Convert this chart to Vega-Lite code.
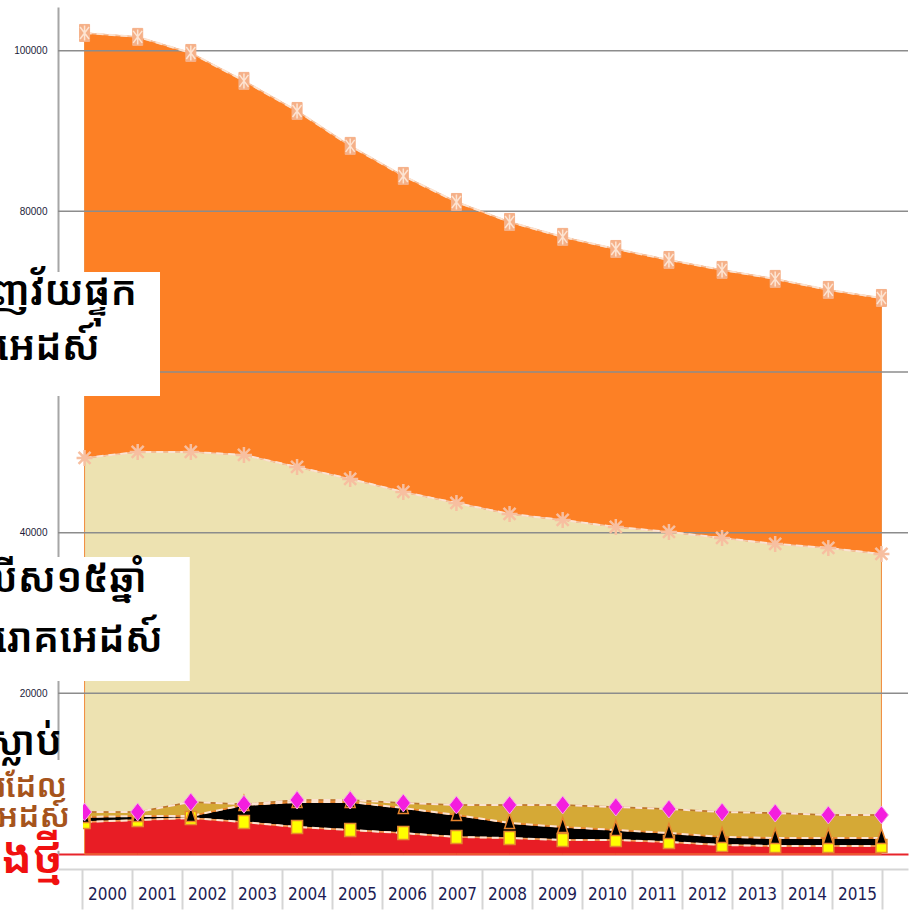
{
  "$schema": "https://vega.github.io/schema/vega-lite/v6.json",
  "width": 850,
  "height": 847,
  "autosize": {"type": "none"},
  "padding": {"left": 58, "top": 7, "right": 11, "bottom": 56},
  "background": "white",
  "config": {"view": {"stroke": null}},
  "datasets": {
    "hiv": [
      {"year": 2000, "series": "new", "k": 1, "value": 3980},
      {"year": 2001, "series": "new", "k": 1, "value": 4230},
      {"year": 2002, "series": "new", "k": 1, "value": 4480},
      {"year": 2003, "series": "new", "k": 1, "value": 3980},
      {"year": 2004, "series": "new", "k": 1, "value": 3360},
      {"year": 2005, "series": "new", "k": 1, "value": 2990},
      {"year": 2006, "series": "new", "k": 1, "value": 2610},
      {"year": 2007, "series": "new", "k": 1, "value": 2120},
      {"year": 2008, "series": "new", "k": 1, "value": 1990},
      {"year": 2009, "series": "new", "k": 1, "value": 1740},
      {"year": 2010, "series": "new", "k": 1, "value": 1740},
      {"year": 2011, "series": "new", "k": 1, "value": 1490},
      {"year": 2012, "series": "new", "k": 1, "value": 1120},
      {"year": 2013, "series": "new", "k": 1, "value": 1000},
      {"year": 2014, "series": "new", "k": 1, "value": 1000},
      {"year": 2015, "series": "new", "k": 1, "value": 1000},
      {"year": 2000, "series": "deaths", "k": 2, "value": 630},
      {"year": 2001, "series": "deaths", "k": 2, "value": 500},
      {"year": 2002, "series": "deaths", "k": 2, "value": 250},
      {"year": 2003, "series": "deaths", "k": 2, "value": 2120},
      {"year": 2004, "series": "deaths", "k": 2, "value": 3110},
      {"year": 2005, "series": "deaths", "k": 2, "value": 3480},
      {"year": 2006, "series": "deaths", "k": 2, "value": 3120},
      {"year": 2007, "series": "deaths", "k": 2, "value": 2740},
      {"year": 2008, "series": "deaths", "k": 2, "value": 1870},
      {"year": 2009, "series": "deaths", "k": 2, "value": 1620},
      {"year": 2010, "series": "deaths", "k": 2, "value": 1250},
      {"year": 2011, "series": "deaths", "k": 2, "value": 1120},
      {"year": 2012, "series": "deaths", "k": 2, "value": 1000},
      {"year": 2013, "series": "deaths", "k": 2, "value": 990},
      {"year": 2014, "series": "deaths", "k": 2, "value": 990},
      {"year": 2015, "series": "deaths", "k": 2, "value": 990},
      {"year": 2000, "series": "children", "k": 3, "value": 620},
      {"year": 2001, "series": "children", "k": 3, "value": 500},
      {"year": 2002, "series": "children", "k": 3, "value": 1740},
      {"year": 2003, "series": "children", "k": 3, "value": 100},
      {"year": 2004, "series": "children", "k": 3, "value": 250},
      {"year": 2005, "series": "children", "k": 3, "value": 250},
      {"year": 2006, "series": "children", "k": 3, "value": 620},
      {"year": 2007, "series": "children", "k": 3, "value": 1240},
      {"year": 2008, "series": "children", "k": 3, "value": 2240},
      {"year": 2009, "series": "children", "k": 3, "value": 2740},
      {"year": 2010, "series": "children", "k": 3, "value": 2860},
      {"year": 2011, "series": "children", "k": 3, "value": 2990},
      {"year": 2012, "series": "children", "k": 3, "value": 3110},
      {"year": 2013, "series": "children", "k": 3, "value": 3110},
      {"year": 2014, "series": "children", "k": 3, "value": 2870},
      {"year": 2015, "series": "children", "k": 3, "value": 2870},
      {"year": 2000, "series": "adults15", "k": 4, "value": 44070},
      {"year": 2001, "series": "adults15", "k": 4, "value": 44820},
      {"year": 2002, "series": "adults15", "k": 4, "value": 43580},
      {"year": 2003, "series": "adults15", "k": 4, "value": 43480},
      {"year": 2004, "series": "adults15", "k": 4, "value": 41460},
      {"year": 2005, "series": "adults15", "k": 4, "value": 39970},
      {"year": 2006, "series": "adults15", "k": 4, "value": 38720},
      {"year": 2007, "series": "adults15", "k": 4, "value": 37600},
      {"year": 2008, "series": "adults15", "k": 4, "value": 36230},
      {"year": 2009, "series": "adults15", "k": 4, "value": 35480},
      {"year": 2010, "series": "adults15", "k": 4, "value": 34860},
      {"year": 2011, "series": "adults15", "k": 4, "value": 34490},
      {"year": 2012, "series": "adults15", "k": 4, "value": 34110},
      {"year": 2013, "series": "adults15", "k": 4, "value": 33500},
      {"year": 2014, "series": "adults15", "k": 4, "value": 33240},
      {"year": 2015, "series": "adults15", "k": 4, "value": 32490},
      {"year": 2000, "series": "adults", "k": 5, "value": 52910},
      {"year": 2001, "series": "adults", "k": 5, "value": 51670},
      {"year": 2002, "series": "adults", "k": 5, "value": 49670},
      {"year": 2003, "series": "adults", "k": 5, "value": 46560},
      {"year": 2004, "series": "adults", "k": 5, "value": 44320},
      {"year": 2005, "series": "adults", "k": 5, "value": 41460},
      {"year": 2006, "series": "adults", "k": 5, "value": 39340},
      {"year": 2007, "series": "adults", "k": 5, "value": 37470},
      {"year": 2008, "series": "adults", "k": 5, "value": 36350},
      {"year": 2009, "series": "adults", "k": 5, "value": 35240},
      {"year": 2010, "series": "adults", "k": 5, "value": 34610},
      {"year": 2011, "series": "adults", "k": 5, "value": 33860},
      {"year": 2012, "series": "adults", "k": 5, "value": 33370},
      {"year": 2013, "series": "adults", "k": 5, "value": 32990},
      {"year": 2014, "series": "adults", "k": 5, "value": 32120},
      {"year": 2015, "series": "adults", "k": 5, "value": 31870}
    ],
    "grid": [{"v": 20000}, {"v": 40000}, {"v": 60000}, {"v": 80000}, {"v": 100000}],
    "boxes": [
      {"x1": 1998.41, "x2": 2001.42, "v1": 57020, "v2": 72450},
      {"x1": 1998.41, "x2": 2001.98, "v1": 21540, "v2": 36970},
      {"x1": 1998.41, "x2": 1999.97, "v1": 400, "v2": 11700}
    ],
    "labels_main": [
      {"yr": 2000.987, "v": 68350, "t": "មនុស្សពេញវ័យផ្ទុក"},
      {"yr": 2000.29, "v": 61500, "t": "មេរោគអេដស៍"},
      {"yr": 2001.175, "v": 32620, "t": "មនុស្សពេញវ័យអាយុលើស១៥ឆ្នាំ"},
      {"yr": 2001.476, "v": 25150, "t": "ផ្ទុកមេរោគអេដស៍"},
      {"yr": 1999.575, "v": 12320, "t": "អ្នកស្លាប់"}
    ],
    "labels_children": [
      {"yr": 1999.67, "v": 7100, "t": "កុមារដែល"},
      {"yr": 1999.726, "v": 3360, "t": "ផ្ទុកមេរោគអេដស៍"}
    ],
    "labels_new": [
      {"yr": 1999.594, "v": -2365, "t": "ការឆ្លងថ្មី"}
    ]
  },
  "layer": [
    {
      "layer": [
        {
          "data": {"name": "hiv"},
          "transform": [{"stack": "value", "groupby": ["year"], "sort": [{"field": "k", "order": "ascending"}], "as": ["y0", "y1"]}],
          "mark": {"type": "area", "stroke": "#f08a3c", "strokeWidth": 1, "interpolate": "linear"},
          "encoding": {
            "x": {"field": "year", "type": "quantitative", "scale": {"domain": [1999.5, 2015.5], "nice": false, "zero": false},
                  "axis": {"orient": "bottom", "labels": false, "ticks": false, "grid": false, "domain": true, "domainColor": "#e8242b", "domainWidth": 2, "title": null}},
            "y": {"field": "y1", "type": "quantitative", "scale": {"domain": [0, 105440], "nice": false, "zero": false},
                  "axis": {"values": [20000, 40000, 60000, 80000, 100000], "format": "d", "grid": false, "ticks": false, "domainColor": "#a6a6a6", "domainWidth": 2, "labelFont": "Liberation Sans", "labelFontSize": 10, "labelColor": "#1c1c3a", "labelPadding": 11, "title": null}},
            "y2": {"field": "y0"},
            "color": {"field": "series", "type": "nominal", "scale": {"domain": ["new", "deaths", "children", "adults15", "adults"], "range": ["#e81d25", "#000000", "#d5a936", "#ede2b1", "#fd8025"]}, "legend": null}
          }
        },
        {
          "data": {"name": "grid"},
          "mark": {"type": "rule", "color": "#8c8c8c", "strokeWidth": 1.5},
          "encoding": {"y": {"field": "v", "type": "quantitative", "scale": {"domain": [0, 105440], "nice": false, "zero": false}}}
        },
        {
          "data": {"name": "hiv"},
          "transform": [{"stack": "value", "groupby": ["year"], "sort": [{"field": "k", "order": "ascending"}], "as": ["y0", "y1"]}],
          "mark": {"type": "line", "strokeWidth": 1.5},
          "encoding": {
            "x": {"field": "year", "type": "quantitative", "scale": {"domain": [1999.5, 2015.5], "nice": false, "zero": false}},
            "y": {"field": "y1", "type": "quantitative", "scale": {"domain": [0, 105440], "nice": false, "zero": false}},
            "stroke": {"field": "series", "type": "nominal", "scale": {"domain": ["new", "deaths", "children", "adults15", "adults"], "range": ["#f29a55", "#e8822c", "#b9762e", "#f5c6a8", "#f6c2a0"]}, "legend": null}
          }
        },
        {
          "data": {"name": "hiv"},
          "transform": [{"stack": "value", "groupby": ["year"], "sort": [{"field": "k", "order": "ascending"}], "as": ["y0", "y1"]}],
          "mark": {"type": "line", "strokeWidth": 2, "stroke": "#fbe3d2", "strokeDash": [7, 5]},
          "encoding": {
            "x": {"field": "year", "type": "quantitative", "scale": {"domain": [1999.5, 2015.5], "nice": false, "zero": false}},
            "y": {"field": "y1", "type": "quantitative", "scale": {"domain": [0, 105440], "nice": false, "zero": false}},
            "detail": {"field": "series", "type": "nominal"}
          }
        },
        {
          "data": {"name": "hiv"},
          "transform": [{"stack": "value", "groupby": ["year"], "sort": [{"field": "k", "order": "ascending"}], "as": ["y0", "y1"]}, {"filter": "datum.k == 1"}],
          "mark": {"type": "point", "shape": "M-0.55,-0.65H0.55V0.65H-0.55Z", "filled": true, "fill": "#ffff00", "stroke": "#e58a2e", "strokeWidth": 1.5, "size": 400, "opacity": 1},
          "encoding": {
            "x": {"field": "year", "type": "quantitative", "scale": {"domain": [1999.5, 2015.5], "nice": false, "zero": false}},
            "y": {"field": "y1", "type": "quantitative", "scale": {"domain": [0, 105440], "nice": false, "zero": false}}
          }
        },
        {
          "data": {"name": "hiv"},
          "transform": [{"stack": "value", "groupby": ["year"], "sort": [{"field": "k", "order": "ascending"}], "as": ["y0", "y1"]}, {"filter": "datum.k == 2"}],
          "mark": {"type": "point", "shape": "M0,-0.95L0.5,0.55L-0.5,0.55Z", "filled": true, "fill": "#000000", "stroke": "#e8852e", "strokeWidth": 1.5, "size": 400, "opacity": 1},
          "encoding": {
            "x": {"field": "year", "type": "quantitative", "scale": {"domain": [1999.5, 2015.5], "nice": false, "zero": false}},
            "y": {"field": "y1", "type": "quantitative", "scale": {"domain": [0, 105440], "nice": false, "zero": false}}
          }
        },
        {
          "data": {"name": "hiv"},
          "transform": [{"stack": "value", "groupby": ["year"], "sort": [{"field": "k", "order": "ascending"}], "as": ["y0", "y1"]}, {"filter": "datum.k == 3"}],
          "mark": {"type": "point", "shape": "M0,-0.9L0.7,0L0,0.9L-0.7,0Z", "filled": true, "fill": "#f41ede", "stroke": "#f7a6e6", "strokeWidth": 1, "size": 400, "opacity": 1},
          "encoding": {
            "x": {"field": "year", "type": "quantitative", "scale": {"domain": [1999.5, 2015.5], "nice": false, "zero": false}},
            "y": {"field": "y1", "type": "quantitative", "scale": {"domain": [0, 105440], "nice": false, "zero": false}}
          }
        },
        {
          "data": {"name": "hiv"},
          "transform": [{"stack": "value", "groupby": ["year"], "sort": [{"field": "k", "order": "ascending"}], "as": ["y0", "y1"]}, {"filter": "datum.k == 4"}],
          "mark": {"type": "point", "shape": "M0,-0.8V0.8M-0.6,-0.6L0.6,0.6M0.6,-0.6L-0.6,0.6M-0.8,0H0.8", "filled": false, "stroke": "#f7bfa0", "strokeWidth": 2.5, "size": 400, "opacity": 1},
          "encoding": {
            "x": {"field": "year", "type": "quantitative", "scale": {"domain": [1999.5, 2015.5], "nice": false, "zero": false}},
            "y": {"field": "y1", "type": "quantitative", "scale": {"domain": [0, 105440], "nice": false, "zero": false}}
          }
        },
        {
          "data": {"name": "hiv"},
          "transform": [{"stack": "value", "groupby": ["year"], "sort": [{"field": "k", "order": "ascending"}], "as": ["y0", "y1"]}, {"filter": "datum.k == 5"}],
          "mark": {"type": "point", "shape": "M-0.5,-0.85H0.5V0.85H-0.5Z", "filled": true, "fill": "#f5b088", "stroke": "#f5b088", "strokeWidth": 1, "size": 400, "opacity": 1},
          "encoding": {
            "x": {"field": "year", "type": "quantitative", "scale": {"domain": [1999.5, 2015.5], "nice": false, "zero": false}},
            "y": {"field": "y1", "type": "quantitative", "scale": {"domain": [0, 105440], "nice": false, "zero": false}}
          }
        },
        {
          "data": {"name": "hiv"},
          "transform": [{"stack": "value", "groupby": ["year"], "sort": [{"field": "k", "order": "ascending"}], "as": ["y0", "y1"]}, {"filter": "datum.k == 5"}],
          "mark": {"type": "point", "shape": "M0,-0.75V0.75M-0.45,-0.6L0.45,0.6M0.45,-0.6L-0.45,0.6", "filled": false, "stroke": "#fde4d2", "strokeWidth": 1.5, "size": 400, "opacity": 1},
          "encoding": {
            "x": {"field": "year", "type": "quantitative", "scale": {"domain": [1999.5, 2015.5], "nice": false, "zero": false}},
            "y": {"field": "y1", "type": "quantitative", "scale": {"domain": [0, 105440], "nice": false, "zero": false}}
          }
        },
        {
          "data": {"name": "boxes"},
          "mark": {"type": "rect", "fill": "#ffffff"},
          "encoding": {
            "x": {"field": "x1", "type": "quantitative", "scale": {"domain": [1999.5, 2015.5], "nice": false, "zero": false}},
            "x2": {"field": "x2"},
            "y": {"field": "v1", "type": "quantitative", "scale": {"domain": [0, 105440], "nice": false, "zero": false}},
            "y2": {"field": "v2"}
          }
        },
        {
          "data": {"name": "labels_main"},
          "mark": {"type": "text", "align": "right", "baseline": "alphabetic", "font": "Noto Sans Khmer, Noto Serif Khmer, Khmer OS, sans-serif", "fontSize": 40, "fontWeight": 600, "color": "#000000"},
          "encoding": {
            "x": {"field": "yr", "type": "quantitative", "scale": {"domain": [1999.5, 2015.5], "nice": false, "zero": false}},
            "y": {"field": "v", "type": "quantitative", "scale": {"domain": [0, 105440], "nice": false, "zero": false}},
            "text": {"field": "t"}
          }
        },
        {
          "data": {"name": "labels_children"},
          "mark": {"type": "text", "align": "right", "baseline": "alphabetic", "font": "Noto Sans Khmer, Noto Serif Khmer, Khmer OS, sans-serif", "fontSize": 32, "fontWeight": 600, "color": "#a6541c"},
          "encoding": {
            "x": {"field": "yr", "type": "quantitative", "scale": {"domain": [1999.5, 2015.5], "nice": false, "zero": false}},
            "y": {"field": "v", "type": "quantitative", "scale": {"domain": [0, 105440], "nice": false, "zero": false}},
            "text": {"field": "t"}
          }
        },
        {
          "data": {"name": "labels_new"},
          "mark": {"type": "text", "align": "right", "baseline": "alphabetic", "font": "Noto Sans Khmer, Noto Serif Khmer, Khmer OS, sans-serif", "fontSize": 46, "fontWeight": 600, "color": "#f01010"},
          "encoding": {
            "x": {"field": "yr", "type": "quantitative", "scale": {"domain": [1999.5, 2015.5], "nice": false, "zero": false}},
            "y": {"field": "v", "type": "quantitative", "scale": {"domain": [0, 105440], "nice": false, "zero": false}},
            "text": {"field": "t"}
          }
        }
      ]
    },
    {
      "data": {"name": "hiv"},
      "transform": [{"filter": "datum.k == 1"}],
      "mark": {"type": "point", "opacity": 0},
      "encoding": {
        "x": {"field": "year", "type": "quantitative", "scale": {"domain": [1999.02, 2016.02], "nice": false, "zero": false},
              "axis": {"orient": "bottom", "offset": 15, "values": [2000, 2001, 2002, 2003, 2004, 2005, 2006, 2007, 2008, 2009, 2010, 2011, 2012, 2013, 2014, 2015, 2016],
                       "format": "d", "labelExpr": "datum.value > 2015 ? '' : datum.label", "tickOffset": -25, "labelOffset": 25, "tickSize": 40, "tickColor": "#d5d5d5", "tickWidth": 2,
                       "domainColor": "#d5d5d5", "domainWidth": 2, "labelFont": "DejaVu Sans Condensed, Liberation Sans Narrow, Liberation Sans, sans-serif", "labelFontSize": 17, "labelColor": "#1d1d55",
                       "labelPadding": -15, "labelBaseline": "middle", "grid": false, "title": null, "labelFlush": false, "labelOverlap": false}}
      }
    }
  ],
  "resolve": {"scale": {"x": "independent"}}
}
